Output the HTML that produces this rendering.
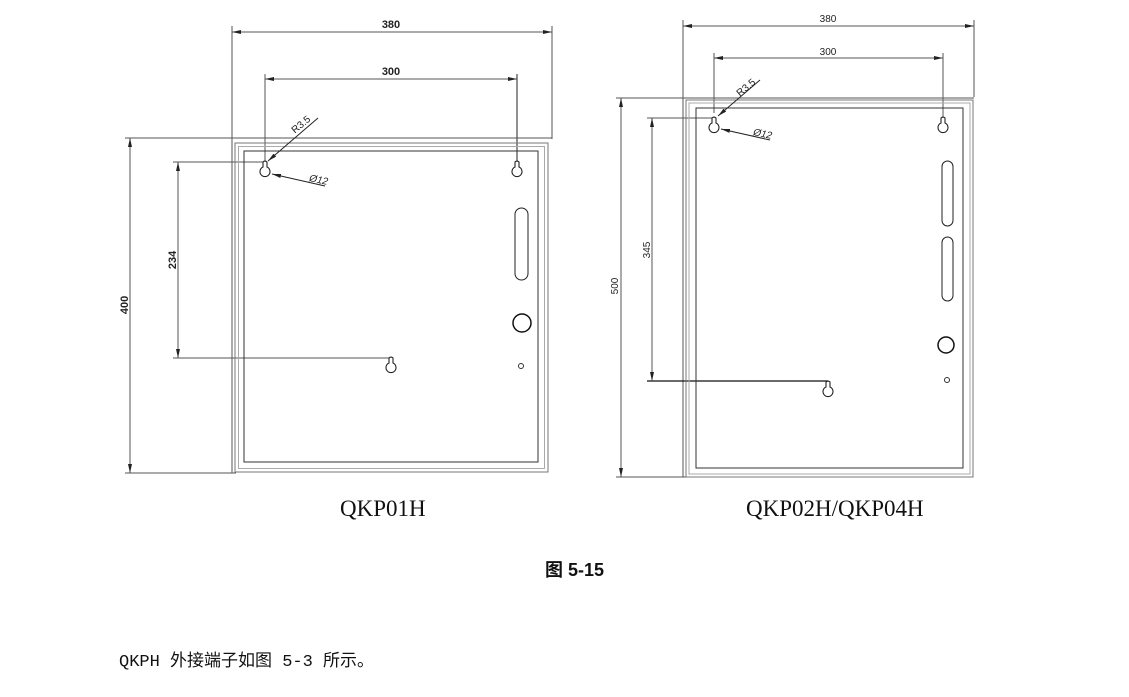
<!DOCTYPE html>
<html><head><meta charset="utf-8"><style>
html,body{margin:0;padding:0;background:#fff;}
body{width:1129px;height:697px;overflow:hidden;position:relative;}
svg{position:absolute;left:0;top:0;}
.t{position:absolute;white-space:nowrap;color:#111;}
</style></head><body>
<svg width="1129" height="697" viewBox="0 0 1129 697">
<defs>
<marker id="a" markerWidth="10" markerHeight="6" refX="9" refY="3" orient="auto-start-reverse" markerUnits="userSpaceOnUse"><path d="M0,1 L9,3 L0,5 Z" fill="#222"/></marker>
<g id="kh"><path d="M-2,-8 Q0,-10 2,-8 L2,-3 A5,5 0 1 1 -2,-3 Z" fill="#fff" stroke="#222" stroke-width="1.1"/></g>
</defs>
<g fill="none" stroke="#555" stroke-width="1">
<line x1="232" y1="26" x2="232" y2="473"/>
<line x1="552" y1="26" x2="552" y2="139"/>
<line x1="232" y1="32" x2="552" y2="32" marker-start="url(#a)" marker-end="url(#a)"/>
<line x1="265" y1="74" x2="265" y2="162"/>
<line x1="517" y1="74" x2="517" y2="162" stroke="#222"/>
<line x1="265" y1="79" x2="517" y2="79" marker-start="url(#a)" marker-end="url(#a)"/>
<line x1="125" y1="138" x2="552" y2="138"/>
<line x1="125" y1="473" x2="236" y2="473"/>
<line x1="130" y1="138" x2="130" y2="473" marker-start="url(#a)" marker-end="url(#a)"/>
<line x1="173" y1="162" x2="265" y2="162"/>
<line x1="173" y1="358" x2="390" y2="358"/>
<line x1="178" y1="162" x2="178" y2="358" marker-start="url(#a)" marker-end="url(#a)"/>
<rect x="235" y="143" width="313" height="329" stroke="#777"/>
<rect x="238.5" y="146.5" width="306" height="322" stroke="#aaa"/>
<rect x="244" y="151" width="294" height="311" stroke="#333"/>
<rect x="515" y="208" width="13" height="72" rx="6.5" stroke="#222"/>
<circle cx="522" cy="323" r="9" stroke="#111" stroke-width="1.5"/>
<circle cx="521" cy="366" r="2.5" stroke="#333"/>
<line x1="318" y1="118" x2="268" y2="161" stroke="#222" marker-end="url(#a)"/>
<line x1="325" y1="186" x2="272" y2="174" stroke="#222" marker-end="url(#a)"/>
<line x1="683" y1="20" x2="683" y2="477"/>
<line x1="974" y1="20" x2="974" y2="97"/>
<line x1="683" y1="26" x2="974" y2="26" marker-start="url(#a)" marker-end="url(#a)"/>
<line x1="714" y1="53" x2="714" y2="113"/>
<line x1="943" y1="53" x2="943" y2="118"/>
<line x1="714" y1="58" x2="943" y2="58" marker-start="url(#a)" marker-end="url(#a)"/>
<line x1="616" y1="98" x2="974" y2="98"/>
<line x1="616" y1="477" x2="686" y2="477"/>
<line x1="621" y1="98" x2="621" y2="477" marker-start="url(#a)" marker-end="url(#a)"/>
<line x1="647" y1="118" x2="714" y2="118"/>
<line x1="647" y1="381" x2="828" y2="381" stroke="#111" stroke-width="1.3"/>
<line x1="652" y1="118" x2="652" y2="381" marker-start="url(#a)" marker-end="url(#a)"/>
<rect x="686" y="100" width="287" height="377" stroke="#777"/>
<rect x="689" y="103" width="281" height="371" stroke="#aaa"/>
<rect x="696" y="108" width="267" height="360" stroke="#333"/>
<rect x="942" y="161" width="11" height="65" rx="5.5" stroke="#222"/>
<rect x="942" y="237" width="11" height="64" rx="5.5" stroke="#222"/>
<circle cx="946" cy="345" r="8" stroke="#111" stroke-width="1.5"/>
<circle cx="947" cy="380" r="2.5" stroke="#333"/>
<line x1="760" y1="80" x2="718" y2="116" stroke="#222" marker-end="url(#a)"/>
<line x1="770" y1="140" x2="721" y2="129" stroke="#222" marker-end="url(#a)"/>
</g>
<use href="#kh" x="265" y="170"/>
<use href="#kh" x="517" y="170"/>
<use href="#kh" x="391" y="366"/>
<use href="#kh" x="714" y="126"/>
<use href="#kh" x="943" y="126"/>
<use href="#kh" x="828" y="390"/>
<g font-family="Liberation Sans, sans-serif" font-size="11" fill="#222" text-anchor="middle">
<text x="391" y="28" font-weight="bold">380</text>
<text x="391" y="75" font-weight="bold">300</text>
<text transform="translate(128,305) rotate(-90)" font-weight="bold">400</text>
<text transform="translate(176,260) rotate(-90)" font-weight="bold">234</text>
<text transform="translate(303,127) rotate(-40)" font-size="10">R3.5</text>
<text transform="translate(318,183) rotate(12)" font-size="10" font-style="italic">Ø12</text>
<text x="828" y="22" font-size="10">380</text>
<text x="828" y="55" font-size="10">300</text>
<text transform="translate(618,286) rotate(-90)" font-size="10">500</text>
<text transform="translate(650,250) rotate(-90)" font-size="10">345</text>
<text transform="translate(748,90) rotate(-40)" font-size="10">R3.5</text>
<text transform="translate(762,137) rotate(12)" font-size="10" font-style="italic">Ø12</text>
</g>
</svg>
<div class="t" style="left:340px;top:496px;font-family:'Liberation Serif',serif;font-size:23px;">QKP01H</div>
<div class="t" style="left:746px;top:496px;font-family:'Liberation Serif',serif;font-size:23px;">QKP02H/QKP04H</div>
<div class="t" style="left:545px;top:556px;font-family:'Liberation Sans','Noto Sans CJK SC',sans-serif;font-size:18px;font-weight:bold;">图 5-15</div>
<div class="t" style="left:119px;top:646px;font-family:'Liberation Mono','Noto Sans CJK SC',monospace;font-size:17px;">QKPH 外接端子如图 5-3 所示。</div>
</body></html>
